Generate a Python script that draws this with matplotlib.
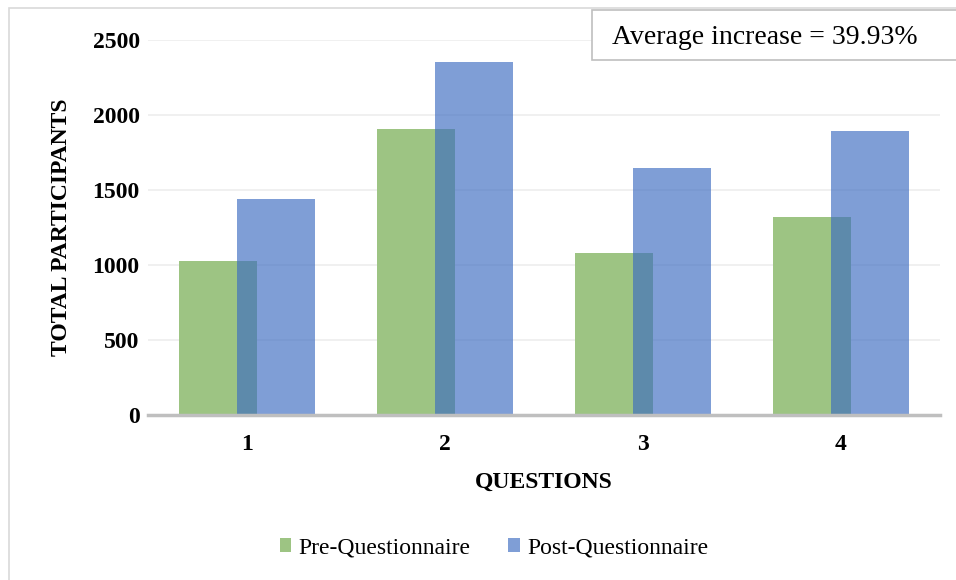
import numpy as np
import matplotlib
matplotlib.use("Agg")
import matplotlib.pyplot as plt
from matplotlib.patches import Rectangle

plt.rcParams['font.family'] = ['Liberation Serif', 'DejaVu Serif']

questions = ["1", "2", "3", "4"]
pre = [1027, 1905, 1080, 1318]
post = [1440, 2355, 1650, 1895]
note = "Average increase = 39.93%"

GREEN = "#9DC483"
BLUE = "#3D6CC1"

fig = plt.figure(figsize=(9.56, 5.8), dpi=100)
ax = fig.add_axes([148/956, 1 - 415/580, (940-148)/956, 375/580])

x = np.arange(len(questions))
w = 0.395
off = 0.147
ax.bar(x - off, pre, w, color=GREEN, label="Pre-Questionnaire", zorder=2)
ax.bar(x + off, post, w, color=BLUE, alpha=0.66, label="Post-Questionnaire", zorder=3)

ax.set_xlim(-0.5, 3.5)
ax.set_ylim(0, 2500)
ax.set_yticks(range(0, 2501, 500))
ax.set_xticks(x)
ax.set_xticklabels(questions)
ax.yaxis.grid(True, color="#EDEDED", lw=1.2, zorder=0)
ax.set_axisbelow(True)
for s in ["top", "right", "left"]:
    ax.spines[s].set_visible(False)
ax.spines["bottom"].set_color("#BFBFBF")
ax.spines["bottom"].set_linewidth(2.5)
ax.spines["bottom"].set_zorder(4)
ax.tick_params(axis="both", length=0, labelsize=17)
ax.tick_params(axis="x", pad=14)
ax.tick_params(axis="y", pad=6)
for lab in ax.get_xticklabels() + ax.get_yticklabels():
    lab.set_fontweight("bold")

ax.set_xlabel("QUESTIONS", fontsize=17, fontweight="bold", labelpad=12)
ax.set_ylabel("TOTAL PARTICIPANTS", fontsize=17, fontweight="bold", labelpad=15)

# outer chart border
fig.patches.append(Rectangle((9/956, -0.05), 1.2, 1 - 8/580 + 0.05,
                             transform=fig.transFigure, fill=False,
                             edgecolor="#D9D9D9", lw=1.2))

# annotation box
fig.patches.append(Rectangle((592/956, 1 - 60/580), 0.5, 50/580,
                             transform=fig.transFigure, facecolor="white",
                             edgecolor="#BFBFBF", lw=1.2, zorder=5))
fig.text(612/956, 1 - 38/580, note, fontsize=20, va="center", ha="left", zorder=6)

handles, labels = ax.get_legend_handles_labels()
fig.legend(handles, labels, loc="center", bbox_to_anchor=(494/956, 1 - 548/580),
           ncol=2, frameon=False, fontsize=17, handlelength=0.5, handleheight=0.5,
           columnspacing=1.6, handletextpad=0.3)

fig.savefig("out.png", dpi=100)
